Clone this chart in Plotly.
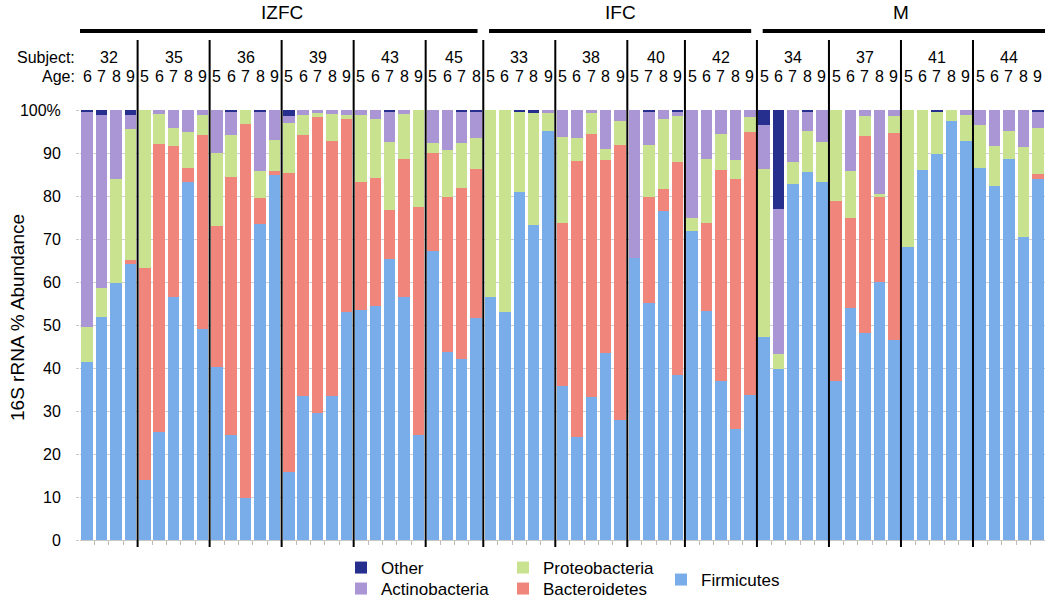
import plotly.graph_objects as go

# ---------------- data ----------------
groups = ["IZFC", "IFC", "M"]
group_subjects = [
    ["32", "35", "36", "39", "43", "45"],
    ["33", "38", "40", "42"],
    ["34", "37", "41", "44"],
]
subject_ages = {
    "32": [6, 7, 8, 9],
    "35": [5, 6, 7, 8, 9],
    "36": [5, 6, 7, 8, 9],
    "39": [5, 6, 7, 8, 9],
    "43": [5, 6, 7, 8, 9],
    "45": [5, 6, 7, 8],
    "33": [5, 6, 7, 8, 9],
    "38": [5, 6, 7, 8, 9],
    "40": [5, 7, 8, 9],
    "42": [5, 6, 7, 8, 9],
    "34": [5, 6, 7, 8, 9],
    "37": [5, 6, 7, 8, 9],
    "41": [5, 6, 7, 8, 9],
    "44": [5, 6, 7, 8, 9],
}

firmicutes = [
    41.5, 51.9, 59.8, 64.3,
    14.0, 25.2, 56.6, 83.3, 49.0,
    40.3, 24.4, 9.7, 73.6, 84.9,
    15.7, 33.5, 29.5, 33.5, 53.1,
    53.5, 54.5, 65.3, 56.4, 24.4,
    67.1, 43.8, 42.1, 51.6,
    56.6, 53.1, 81.0, 73.3, 95.2,
    35.8, 23.9, 33.3, 43.4, 27.9,
    65.5, 55.2, 76.5, 38.4,
    71.9, 53.3, 37.0, 25.7, 33.7,
    47.1, 39.7, 82.8, 85.5, 83.3,
    37.0, 53.9, 48.2, 60.1, 46.4,
    68.1, 86.0, 89.8, 97.5, 92.8,
    86.4, 82.3, 88.5, 70.5, 84.0,
]
bacteroidetes = [
    0.0, 0.0, 0.0, 0.8,
    49.2, 67.0, 35.1, 3.1, 45.2,
    32.7, 60.1, 87.0, 5.9, 0.8,
    69.6, 60.7, 68.9, 59.4, 44.8,
    29.8, 29.8, 11.4, 32.1, 53.0,
    22.8, 36.0, 39.7, 34.6,
    0.0, 0.0, 0.0, 0.0, 0.0,
    38.0, 64.3, 61.1, 45.0, 64.0,
    0.0, 24.6, 5.1, 49.4,
    0.0, 20.5, 49.0, 58.3, 61.3,
    0.0, 0.0, 0.0, 0.0, 0.0,
    41.9, 21.1, 45.8, 19.6, 48.2,
    0.0, 0.0, 0.0, 0.0, 0.0,
    0.0, 0.0, 0.0, 0.0, 1.1,
]
proteobacteria = [
    8.1, 6.6, 24.2, 30.4,
    36.8, 6.8, 4.0, 8.6, 4.6,
    17.1, 9.7, 3.3, 6.2, 7.3,
    11.7, 4.6, 0.8, 6.1, 0.9,
    15.5, 13.5, 15.9, 10.5, 22.6,
    2.5, 10.9, 10.6, 7.2,
    43.4, 46.9, 18.6, 26.1, 4.2,
    20.0, 5.4, 4.8, 2.5, 5.6,
    0.0, 12.1, 16.3, 10.9,
    3.1, 14.7, 8.4, 4.4, 3.3,
    39.2, 3.6, 5.0, 9.6, 9.3,
    21.1, 10.9, 4.6, 0.8, 4.0,
    31.9, 14.0, 9.9, 2.5, 6.0,
    10.1, 9.3, 6.7, 20.8, 10.6,
]
actinobacteria = [
    50.0, 40.3, 16.0, 3.3,
    0.0, 1.0, 4.3, 5.0, 1.2,
    9.9, 5.5, 0.0, 14.0, 7.0,
    1.6, 1.2, 0.8, 1.0, 1.2,
    1.2, 2.2, 7.1, 1.0, 0.0,
    7.6, 9.3, 7.2, 6.3,
    0.0, 0.0, 0.0, 0.0, 0.6,
    6.2, 6.4, 0.8, 9.1, 2.5,
    34.5, 7.7, 2.1, 0.9,
    25.0, 11.5, 5.6, 11.6, 1.7,
    10.2, 33.6, 12.2, 4.5, 7.4,
    0.0, 14.1, 1.4, 19.5, 1.4,
    0.0, 0.0, 0.0, 0.0, 1.2,
    3.5, 8.4, 4.8, 8.7, 4.0,
]
other = [
    0.4, 1.2, 0.0, 1.2,
    0.0, 0.0, 0.0, 0.0, 0.0,
    0.0, 0.3, 0.0, 0.3, 0.0,
    1.4, 0.0, 0.0, 0.0, 0.0,
    0.0, 0.0, 0.3, 0.0, 0.0,
    0.0, 0.0, 0.4, 0.3,
    0.0, 0.0, 0.4, 0.6, 0.0,
    0.0, 0.0, 0.0, 0.0, 0.0,
    0.0, 0.4, 0.0, 0.4,
    0.0, 0.0, 0.0, 0.0, 0.0,
    3.5, 23.1, 0.0, 0.4, 0.0,
    0.0, 0.0, 0.0, 0.0, 0.0,
    0.0, 0.0, 0.3, 0.0, 0.0,
    0.0, 0.0, 0.0, 0.0, 0.3,
]

y_tickvals = [0, 10, 20, 30, 40, 50, 60, 70, 80, 90, 100]
y_ticktext = ["0", "10", "20", "30", "40", "50", "60", "70", "80", "90", "100%"]

# ---------------- layout helpers ----------------
W, H = 1050, 600
ML, MR, MT, MB = 80, 5, 110, 60
PW, PH = W - ML - MR, H - MT - MB


def pyp(p):  # pixel y -> paper y
    return (H - MB - p) / PH


def pxp(p):  # pixel x -> paper x
    return (p - ML) / PW


FONT = "Liberation Sans, Arial, sans-serif"

# bar order
bar_subject, bar_age = [], []
for gs in group_subjects:
    for s in gs:
        for a in subject_ages[s]:
            bar_subject.append(s)
            bar_age.append(a)
n = len(bar_subject)
xs = list(range(n))

colors = {
    "Firmicutes": "#78ade9",
    "Bacteroidetes": "#ef857b",
    "Proteobacteria": "#c8e290",
    "Actinobacteria": "#aa95d5",
    "Other": "#262e8e",
}

# name, values, legend id, legend pixel position (left x, centre y)
series = [
    ("Firmicutes", firmicutes, "legend5", (661, 580)),
    ("Bacteroidetes", bacteroidetes, "legend4", (503, 589)),
    ("Proteobacteria", proteobacteria, "legend3", (503, 568)),
    ("Actinobacteria", actinobacteria, "legend2", (341, 589)),
    ("Other", other, "legend", (341, 568)),
]

fig = go.Figure()
for name, vals, lg, _ in series:
    fig.add_trace(go.Bar(
        x=xs, y=vals, name=name, legend=lg, showlegend=True,
        marker=dict(color=colors[name], line=dict(width=0)),
        customdata=[[s, a] for s, a in zip(bar_subject, bar_age)],
        hovertemplate="Subject %{customdata[0]}, age %{customdata[1]}<br>" + name + ": %{y}%<extra></extra>",
    ))

shapes = []
annotations = []

# subject blocks
start = 0
subj_ranges = []
for gs in group_subjects:
    for s in gs:
        k = len(subject_ages[s])
        subj_ranges.append((s, start, start + k - 1))
        start += k

# separators between subjects + subject numbers
for i, (s, a, b) in enumerate(subj_ranges):
    if i > 0:
        shapes.append(dict(type="line", xref="x", yref="paper", x0=a - 0.5, x1=a - 0.5,
                           y0=pyp(547), y1=pyp(40), line=dict(color="black", width=2)))
    annotations.append(dict(x=(a + b) / 2, y=pyp(58), xref="x", yref="paper", text=s,
                            showarrow=False, font=dict(size=16, color="black", family=FONT),
                            xanchor="center", yanchor="middle"))

# group headers
start = 0
for gi, (g, gs) in enumerate(zip(groups, group_subjects)):
    k = sum(len(subject_ages[s]) for s in gs)
    a, b = start, start + k - 1
    x0 = a - 0.5 + (0.4 if gi > 0 else 0)
    x1 = b + 0.5 - (0.4 if gi < len(groups) - 1 else 0)
    shapes.append(dict(type="line", xref="x", yref="paper", x0=x0, x1=x1,
                       y0=pyp(31), y1=pyp(31), line=dict(color="black", width=4)))
    annotations.append(dict(x=(a + b) / 2, y=pyp(13), xref="x", yref="paper", text=g,
                            showarrow=False, font=dict(size=19, color="black", family=FONT),
                            xanchor="center", yanchor="middle"))
    start += k

# age row
for x, a in zip(xs, bar_age):
    annotations.append(dict(x=x, y=pyp(77), xref="x", yref="paper", text=str(a),
                            showarrow=False, font=dict(size=16, color="black", family=FONT),
                            xanchor="center", yanchor="middle"))

annotations.append(dict(x=pxp(77), y=pyp(58), xref="paper", yref="paper", text="Subject:",
                        showarrow=False, font=dict(size=16, color="black", family=FONT),
                        xanchor="right", yanchor="middle"))
annotations.append(dict(x=pxp(77), y=pyp(77), xref="paper", yref="paper", text="Age:",
                        showarrow=False, font=dict(size=16, color="black", family=FONT),
                        xanchor="right", yanchor="middle"))
annotations.append(dict(x=pxp(17), y=pyp(318), xref="paper", yref="paper",
                        text="16S rRNA % Abundance", textangle=-90,
                        showarrow=False, font=dict(size=19, color="black", family=FONT),
                        xanchor="center", yanchor="middle"))

legend_font = dict(size=17, color="black", family=FONT)
legends = {}
for name, _, lg, (lx, ly) in series:
    legends[lg] = dict(x=pxp(lx), y=pyp(ly), xanchor="left", yanchor="middle",
                       orientation="v", font=legend_font, bgcolor="rgba(0,0,0,0)",
                       itemwidth=30, borderwidth=0, visible=True)

fig.update_layout(
    width=W, height=H,
    showlegend=True,
    margin=dict(l=ML, r=MR, t=MT, b=MB, pad=0, autoexpand=False),
    barmode="stack", bargap=0.2,
    plot_bgcolor="white", paper_bgcolor="white",
    font=dict(family=FONT, size=16, color="black"),
    xaxis=dict(range=[-0.5, n - 0.5], tickmode="array",
               tickvals=[i + 0.5 for i in range(n - 1)], ticktext=[""] * (n - 1),
               ticks="outside", ticklen=4, tickcolor="#c0b8b8", tickwidth=1,
               showgrid=False, showline=True, linecolor="#c8c8c8", zeroline=False,
               fixedrange=True),
    yaxis=dict(range=[0, 100], tickmode="array", tickvals=y_tickvals, ticktext=y_ticktext,
               showgrid=True, gridcolor="#cfcfcf", gridwidth=1, zeroline=False,
               ticks="outside", ticklen=3, tickcolor="#c8c8c8", ticklabelstandoff=12,
               tickfont=dict(size=16, color="black", family=FONT), showline=False),
    shapes=shapes,
    annotations=annotations,
    **legends,
)

fig.write_html("out.html",
               config={"displayModeBar": False},
               post_script="document.body.style.margin='0px';document.body.style.overflow='hidden';")
